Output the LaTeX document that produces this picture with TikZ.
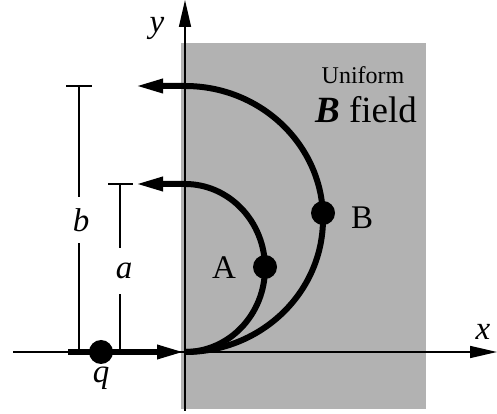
\documentclass[tikz,border=0pt]{standalone}
\usepackage{fontspec}
\setmainfont{Liberation Serif}
\usetikzlibrary{arrows.meta}
\begin{document}
\begin{tikzpicture}[x=1pt,y=1pt,
  axis/.style={line width=1.6pt},
  path/.style={line width=6pt},
  tip/.style={-{Triangle[length=28pt,width=13pt]}},
  dim/.style={line width=1.4pt},
  dot/.style={circle,fill=black,inner sep=0pt,minimum size=24pt},
  lbl/.style={font=\fontsize{33}{35}\selectfont,inner sep=0pt},
  dimlbl/.style={lbl,fill=white,inner xsep=1pt,minimum height=46pt},
  small/.style={font=\fontsize{24}{26}\selectfont,inner sep=0pt},
  big/.style={font=\fontsize{37}{39}\selectfont,inner sep=0pt}]
\useasboundingbox (0,0) rectangle (497,414);
% field region
\fill[black!30] (181,5) rectangle (426,371);
% coordinates
\coordinate (O) at (185,62);
\coordinate (Xs) at (13,62);
\coordinate (Xe) at (497,62);
\coordinate (Ys) at (185,3);
\coordinate (Ye) at (185,414);
\coordinate (Qs) at (68,62);
\coordinate (Btip) at (135,328);
\coordinate (Atip) at (135,230);
\coordinate (bb) at (79,62);
\coordinate (bt) at (79,328);
\coordinate (btl) at (66,328);
\coordinate (btr) at (92,328);
\coordinate (ab) at (120,62);
\coordinate (at) at (120,230);
\coordinate (atl) at (108,230);
\coordinate (atr) at (133,230);
% axes
\draw[axis,-{Triangle[length=27pt,width=12pt]}] (Xs) -- (Xe);
\draw[axis,-{Triangle[length=27pt,width=12pt]}] (Ys) -- (Ye);
% dimension lines
\draw[dim] (bb) -- (bt);
\draw[dim] (btl) -- (btr);
\draw[dim] (ab) -- (at);
\draw[dim] (atl) -- (atr);
% incoming charge path
\draw[path,tip] (Qs) -- (O);
% trajectories
\draw[path,tip] (O) arc[start angle=-90,end angle=90,x radius=138,y radius=133] -- (Btip);
\draw[path,tip] (O) arc[start angle=-90,end angle=90,x radius=80,y radius=84] -- (Atip);
% dots
\node[dot] (q) at (101,62) {};
\node[dot] (A) at (265,147) {};
\node[dot] (B) at (323,201) {};
% labels
\node[lbl] (ql) at (101,36) {\textit{q}};
\node[lbl] (Al) at (224,146) {A};
\node[lbl] (Bl) at (362,196) {B};
\node[dimlbl] (al) at (124,143) {\textit{a}};
\node[dimlbl] (bl) at (81,194) {\textit{b}};
\node[lbl] (xl) at (483,82) {\textit{x}};
\node[lbl] (yl) at (157,386) {\textit{y}};
\node[small] (u) at (363,339) {Uniform};
\node[big] (f) at (366,304) {\textbf{\textit{B}} field};
\end{tikzpicture}
\end{document}
